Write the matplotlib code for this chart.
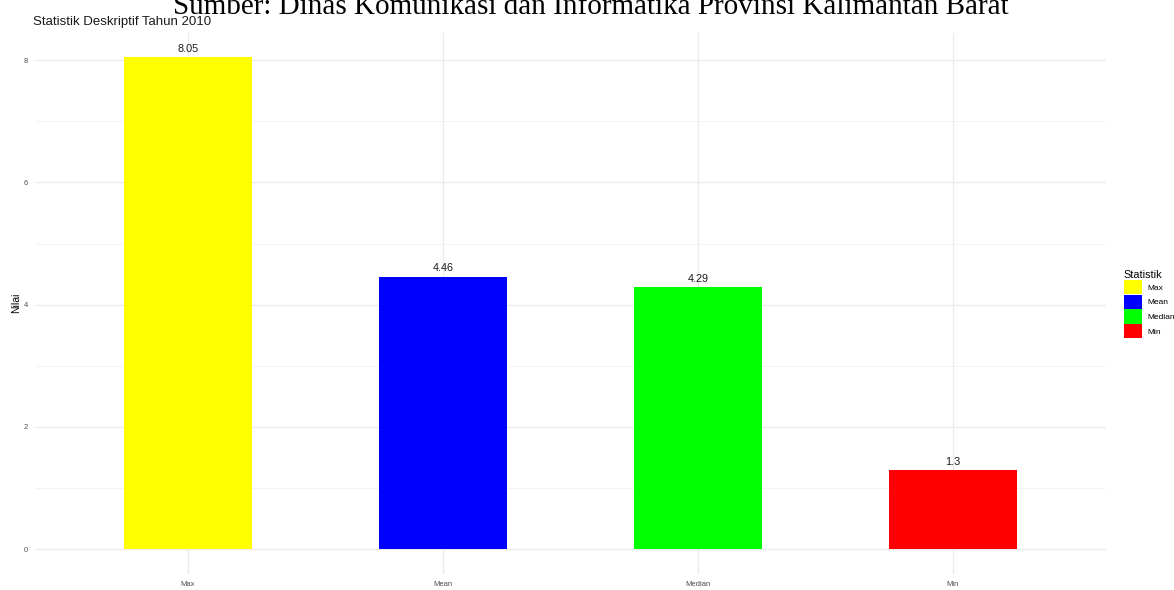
import matplotlib.pyplot as plt
from matplotlib.patches import Patch

statistik = ['Max', 'Mean', 'Median', 'Min']
nilai = [8.05, 4.46, 4.29, 1.3]
warna = ['#FFFF00', '#0000FF', '#00FF00', '#FF0000']
label_nilai = ['8.05', '4.46', '4.29', '1.3']

W, H = 1174, 590
fig = plt.figure(figsize=(W / 100, H / 100), dpi=100)
plt.rcParams['font.family'] = ['Liberation Sans', 'DejaVu Sans']

# panel in pixels: left 35, right 1106, top 32.6, bottom 573.6
ax = fig.add_axes([35 / W, 1 - 573.6 / H, (1106 - 35) / W, (573.6 - 32.6) / H])

x = list(range(1, len(statistik) + 1))
ax.bar(x, nilai, width=0.5, color=warna, zorder=2)
for xi, v, lab in zip(x, nilai, label_nilai):
    ax.text(xi, v + 0.05, lab, ha='center', va='bottom', fontsize=7.8, color='#1A1A1A')

ax.set_xlim(0.4, 4.6)
top = 8.05
ax.set_ylim(-0.05 * top, top * 1.05)
ax.set_xticks(x)
ax.set_xticklabels(statistik)
ax.set_yticks([0, 2, 4, 6, 8])
ax.set_yticks([1, 3, 5, 7], minor=True)
ax.grid(which='major', color='#EBEBEB', linewidth=0.9, zorder=0)
ax.grid(which='minor', axis='y', color='#F2F2F2', linewidth=0.6, zorder=0)
ax.tick_params(axis='both', which='both', length=0, labelsize=5.5, labelcolor='#4D4D4D', pad=5)
for s in ax.spines.values():
    s.set_visible(False)
ax.set_ylabel('Nilai', fontsize=7.5, labelpad=2)

fig.text(33 / W, 1 - 25 / H, 'Statistik Deskriptif Tahun 2010', fontsize=9.5,
         ha='left', va='baseline', color='#1A1A1A')
fig.text(591 / W, 1 - 14 / H, 'Sumber: Dinas Komunikasi dan Informatika Provinsi Kalimantan Barat',
         fontsize=21, family=['Liberation Serif', 'DejaVu Serif'], ha='center', va='baseline')

handles = [Patch(facecolor=c, edgecolor='none', label=s) for s, c in zip(statistik, warna)]
leg = fig.legend(handles=handles, title='Statistik', loc='center left',
                 bbox_to_anchor=(1117 / W, 1 - 304 / H), frameon=False, fontsize=6,
                 title_fontsize=7.8, handlelength=2.25, handleheight=2.25, handletextpad=0.6,
                 labelspacing=0.05, borderpad=0.3)
leg._legend_box.align = 'left'

fig.savefig('out.png', dpi=100)
